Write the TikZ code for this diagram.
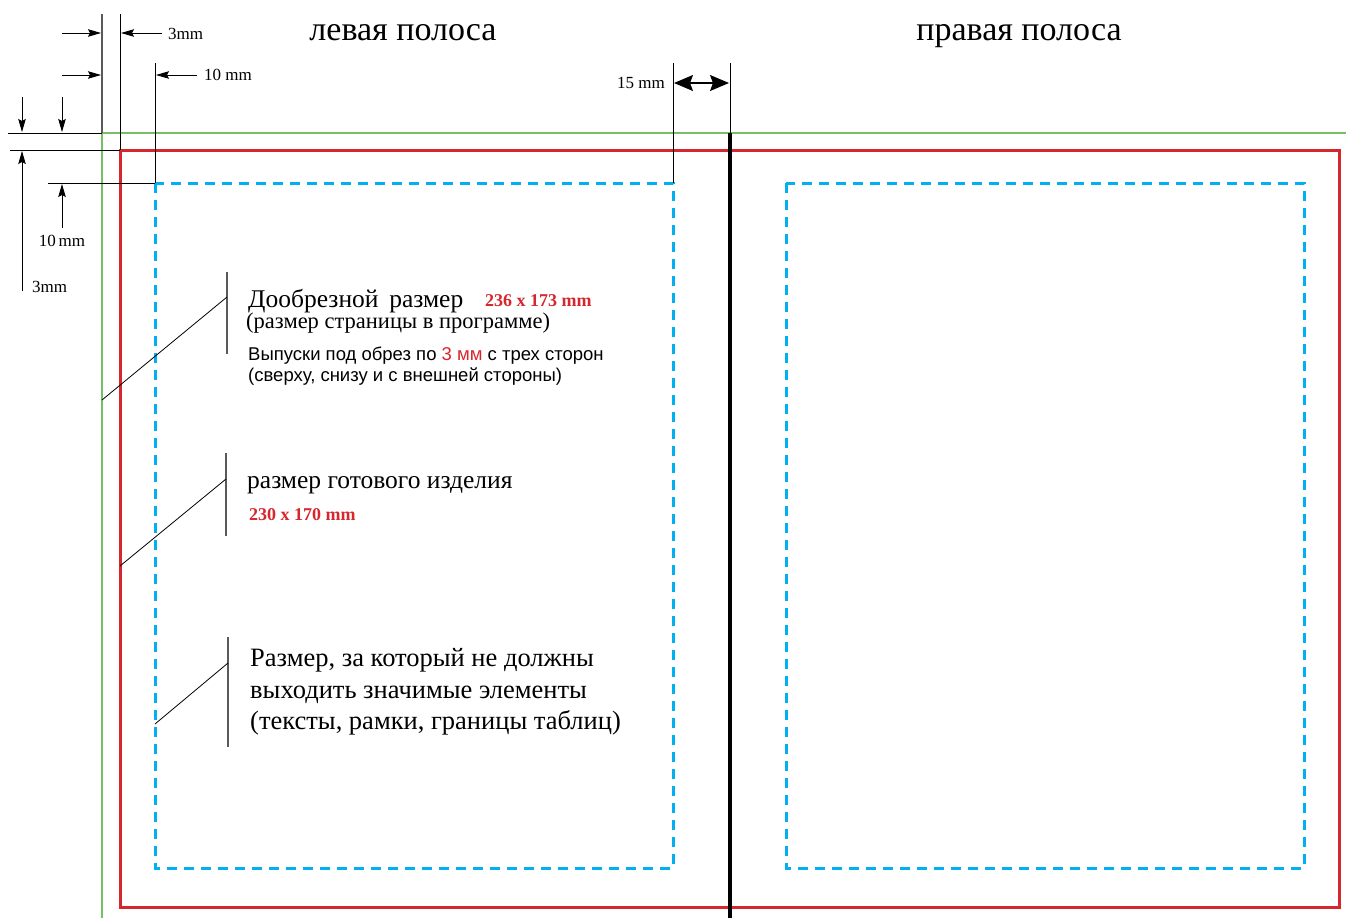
\documentclass[tikz,border=0pt]{standalone}
\usepackage{fontspec}
\setmainfont{Liberation Serif}
\newfontfamily\arialf{Liberation Sans}
\usetikzlibrary{arrows.meta}
\definecolor{cutred}{RGB}{214,38,46}
\definecolor{bleedgreen}{RGB}{120,190,100}
\definecolor{safeblue}{RGB}{0,176,240}
\definecolor{leadgray}{RGB}{90,90,90}
\begin{document}
\begin{tikzpicture}[x=1pt,y=-1pt,
  thinline/.style={black,line width=0.9pt},
  dimarrow/.style={thinline,-{Stealth[length=13pt,width=7.5pt,inset=2pt]}},
  bigarrow/.style={black,line width=1.1pt,{Stealth[length=19pt,width=16pt,inset=3pt]}-{Stealth[length=19pt,width=16pt,inset=3pt]}},
  leader/.style={black,line width=0.8pt},
  tick/.style={leadgray,line width=1.3pt},
  dimlabel/.style={font=\fontsize{17}{19}\selectfont,inner sep=0pt},
  title/.style={font=\fontsize{34}{38}\selectfont,inner sep=0pt,anchor=base},
  bigtext/.style={font=\fontsize{26.5}{30}\selectfont,inner sep=0pt,anchor=base west},
  midtext/.style={font=\fontsize{22.5}{26}\selectfont,inner sep=0pt,anchor=base west},
  sanstext/.style={font=\arialf\fontsize{18.5}{21}\selectfont,inner sep=0pt,anchor=base west},
  redbold/.style={font=\bfseries\fontsize{18}{21}\selectfont,text=cutred,inner sep=0pt,anchor=base west}]
\fill[white] (0,0) rectangle (1346,918);
\useasboundingbox (0,0) rectangle (1346,918);

% key coordinates
\coordinate (gTop) at (102,14);
\coordinate (gCorner) at (102,133);
\coordinate (gBot) at (102,918);
\coordinate (gRight) at (1346,133);
\coordinate (rTop) at (120,14);
\coordinate (rCorner) at (120,150);
\coordinate (bTop) at (155,63);
\coordinate (bCorner) at (155,183);
\coordinate (sTop) at (673,63);
\coordinate (sCorner) at (673,183);
\coordinate (spTop) at (730,63);
\coordinate (spMid) at (730,133);
\coordinate (spBot) at (730,918);

% green bleed lines
\draw[bleedgreen,line width=2.4pt] (gRight) -- (gCorner) -- (gBot);
% gray extension of bleed vertical
\draw[leadgray,line width=1.5pt] (gTop) -- (gCorner);
% red trim rectangle
\draw[cutred,line width=3pt] (rCorner) rectangle (1339,907);
% blue safe rectangles
\draw[safeblue,line width=3pt,dash pattern=on 10pt off 7pt] (bCorner) rectangle (673,868);
\draw[safeblue,line width=3pt,dash pattern=on 10pt off 7pt] (786,183) rectangle (1304,868);
% spine
\draw[black,line width=3.2pt] (spMid) -- (spBot);
\draw[thinline] (spTop) -- (spMid);

% extension lines
\draw[thinline] (rTop) -- (rCorner);
\draw[thinline] (bTop) -- (bCorner);
\draw[thinline] (sTop) -- (sCorner);
\coordinate (h1) at (8,133);
\coordinate (h2) at (10,150);
\coordinate (h3) at (48,183);
\draw[thinline] (h1) -- (gCorner);
\draw[thinline] (h2) -- (rCorner);
\draw[thinline] (h3) -- (bCorner);

% horizontal dimension arrows (top)
\coordinate (a1s) at (62,33);  \coordinate (a1e) at (101,33);
\coordinate (a2s) at (162,33); \coordinate (a2e) at (121,33);
\coordinate (a3s) at (62,75);  \coordinate (a3e) at (101,75);
\coordinate (a4s) at (197,75); \coordinate (a4e) at (156,75);
\draw[dimarrow] (a1s) -- (a1e);
\draw[dimarrow] (a2s) -- (a2e);
\draw[dimarrow] (a3s) -- (a3e);
\draw[dimarrow] (a4s) -- (a4e);
\node[dimlabel,anchor=base west] (l3a) at (168,39) {3mm};
\node[dimlabel,anchor=base west] (l10a) at (204,80) {10 mm};

% vertical dimension arrows (left)
\coordinate (v1s) at (22,97);  \coordinate (v1e) at (22,132);
\coordinate (v2s) at (62,97);  \coordinate (v2e) at (62,132);
\coordinate (v3s) at (22,291); \coordinate (v3e) at (22,151);
\coordinate (v4s) at (62,228); \coordinate (v4e) at (62,184);
\draw[dimarrow] (v1s) -- (v1e);
\draw[dimarrow] (v2s) -- (v2e);
\draw[dimarrow] (v3s) -- (v3e);
\draw[dimarrow] (v4s) -- (v4e);
\node[dimlabel,anchor=base] (l10b) at (62,246) {10\,mm};
\node[dimlabel,anchor=base west] (l3b) at (32,292) {3mm};

% 15 mm arrow
\coordinate (d15a) at (674,83);
\coordinate (d15b) at (729,83);
\draw[bigarrow] (d15a) -- (d15b);
\node[dimlabel,anchor=base east] (l15) at (665,88) {15 mm};

% titles
\node[title] (leftT) at (403,40) {левая полоса};
\node[title] (rightT) at (1019,40) {правая полоса};

% leader 1
\coordinate (t1a) at (227,272); \coordinate (t1b) at (227,354);
\coordinate (t1m) at (227,297); \coordinate (t1e) at (102,400);
\draw[tick] (t1a) -- (t1b);
\draw[leader] (t1e) -- (t1m);
\node[bigtext,font=\fontsize{25.5}{29}\selectfont] (txt1) at (248,307) {Дообрезной\hspace{0.42em}размер};
\node[redbold] (red1) at (485,306) {236 x 173 mm};
\node[midtext] (txt1b) at (246,328) {(размер страницы в программе)};
\node[sanstext] (txt1c) at (248,360) {Выпуски под обрез по \textcolor{cutred}{3 мм} с трех сторон};
\node[sanstext] (txt1d) at (248,381) {(сверху, снизу и с внешней стороны)};

% leader 2
\coordinate (t2a) at (226,453); \coordinate (t2b) at (226,536);
\coordinate (t2m) at (226,479); \coordinate (t2e) at (120,566);
\draw[tick] (t2a) -- (t2b);
\draw[leader] (t2e) -- (t2m);
\node[bigtext,font=\fontsize{25.5}{29}\selectfont] (txt2) at (247,488) {размер готового изделия};
\node[redbold] (red2) at (249,520) {230 x 170 mm};

% leader 3
\coordinate (t3a) at (228,637); \coordinate (t3b) at (228,747);
\coordinate (t3m) at (228,663); \coordinate (t3e) at (155,724);
\draw[tick] (t3a) -- (t3b);
\draw[leader] (t3e) -- (t3m);
\node[bigtext] (txt3a) at (250,666) {Размер, за который не должны};
\node[bigtext] (txt3b) at (250,698) {выходить значимые элементы};
\node[bigtext] (txt3c) at (250,729) {(тексты, рамки, границы таблиц)};
\end{tikzpicture}
\end{document}
